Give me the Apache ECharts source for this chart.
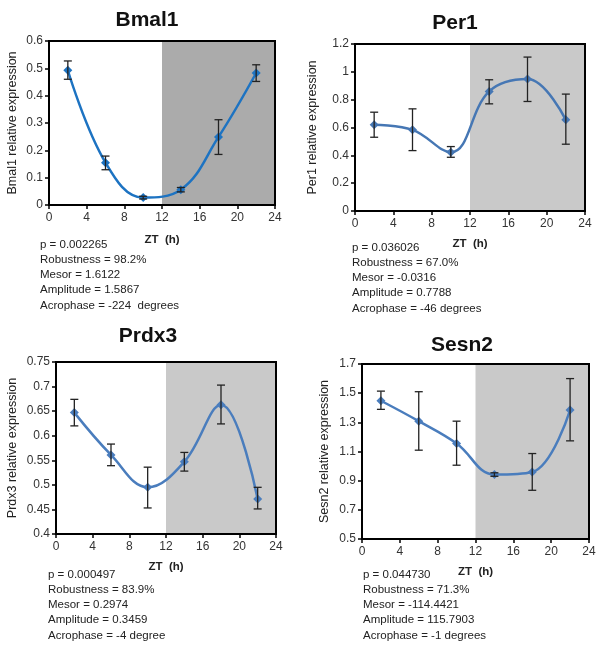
<!DOCTYPE html>
<html>
<head>
<meta charset="utf-8">
<script src="https://cdn.jsdelivr.net/npm/echarts@6/dist/echarts.min.js"></script>
<style>
  html, body { margin: 0; padding: 0; background: #fff; }
  #chart { width: 601px; height: 645px; }
</style>
</head>
<body>
<div id="chart"></div>
<script>
// ZT sampling times (h)
const zt = [2, 6, 10, 14, 18, 22];

// Bmal1
const bmal1Mean = [0.493, 0.155, 0.027, 0.056, 0.249, 0.483];
const bmal1Low  = [0.460, 0.129, 0.022, 0.048, 0.185, 0.452];
const bmal1High = [0.527, 0.179, 0.032, 0.064, 0.312, 0.513];

// Per1
const per1Mean = [0.619, 0.583, 0.422, 0.859, 0.948, 0.655];
const per1Low  = [0.530, 0.434, 0.386, 0.770, 0.787, 0.480];
const per1High = [0.710, 0.734, 0.463, 0.943, 1.106, 0.840];

// Prdx3
const prdx3Mean = [0.647, 0.561, 0.495, 0.547, 0.663, 0.471];
const prdx3Low  = [0.620, 0.539, 0.453, 0.528, 0.624, 0.451];
const prdx3High = [0.674, 0.583, 0.536, 0.566, 0.703, 0.495];

// Sesn2
const sesn2Mean = [1.448, 1.308, 1.155, 0.942, 0.960, 1.384];
const sesn2Low  = [1.389, 1.109, 1.006, 0.930, 0.834, 1.173];
const sesn2High = [1.514, 1.510, 1.308, 0.954, 1.086, 1.600];

// cosinor stats under each panel
const bmal1Stats = ["p = 0.002265", "Robustness = 98.2%", "Mesor = 1.6122", "Amplitude = 1.5867", "Acrophase = -224  degrees"];
const per1Stats  = ["p = 0.036026", "Robustness = 67.0%", "Mesor = -0.0316", "Amplitude = 0.7788", "Acrophase = -46 degrees"];
const prdx3Stats = ["p = 0.000497", "Robustness = 83.9%", "Mesor = 0.2974", "Amplitude = 0.3459", "Acrophase = -4 degree"];
const sesn2Stats = ["p = 0.044730", "Robustness = 71.3%", "Mesor = -114.4421", "Amplitude = 115.7903", "Acrophase = -1 degrees"];

const darkStart = 12;

const font = "Liberation Sans, Arial, sans-serif";

// panel layout
const panels = [
  { name: "Bmal1", mean: bmal1Mean, low: bmal1Low, high: bmal1High, stats: bmal1Stats,
    min: 0, max: 0.6, step: 0.1, dec: 1,
    grid: { left: 49, top: 41, width: 226, height: 164 },
    title: [142, 5], statPos: [40, 237], yGap: 30, xGap: 29,
    line: "#1d73c2", shade: "#ababab" },
  { name: "Per1", mean: per1Mean, low: per1Low, high: per1High, stats: per1Stats,
    min: 0, max: 1.2, step: 0.2, dec: 1,
    grid: { left: 355, top: 44, width: 230, height: 167 },
    title: [450, 8], statPos: [352, 240], yGap: 36, xGap: 27,
    line: "#4677b4", shade: "#c9c9c9" },
  { name: "Prdx3", mean: prdx3Mean, low: prdx3Low, high: prdx3High, stats: prdx3Stats,
    min: 0.4, max: 0.75, step: 0.05, dec: 2,
    grid: { left: 56, top: 362, width: 220, height: 172 },
    title: [143, 321], statPos: [48, 567], yGap: 37, xGap: 27,
    line: "#4a7dbd", shade: "#c9c9c9" },
  { name: "Sesn2", mean: sesn2Mean, low: sesn2Low, high: sesn2High, stats: sesn2Stats,
    min: 0.5, max: 1.7, step: 0.2, dec: 1,
    grid: { left: 362, top: 364, width: 227, height: 175 },
    title: [457, 330], statPos: [363, 567], yGap: 31, xGap: 27,
    line: "#4a7dbd", shade: "#c9c9c9" }
];

const option = { animation: false, title: [], grid: [], xAxis: [], yAxis: [], series: [], graphic: [] };

panels.forEach((p, i) => {
  option.title.push({
    text: p.name, left: p.title[0], top: p.title[1], textAlign: "center",
    textStyle: { fontFamily: font, fontSize: 21, fontWeight: "bold", color: "#111" }
  });
  option.grid.push(Object.assign({
    show: true, z: 5, backgroundColor: "transparent",
    borderColor: "#000", borderWidth: 2
  }, p.grid));
  option.xAxis.push({
    type: "value", gridIndex: i, min: 0, max: 24, interval: 4,
    name: "ZT  (h)", nameLocation: "middle", nameGap: p.xGap,
    nameTextStyle: { fontFamily: font, fontSize: 11.5, fontWeight: "bold", color: "#222" },
    axisLine: { show: false },
    axisTick: { show: true, length: 4, lineStyle: { color: "#000", width: 1.5 } },
    axisLabel: { fontFamily: font, fontSize: 12, color: "#333", margin: 7 },
    splitLine: { show: false }
  });
  option.yAxis.push({
    type: "value", gridIndex: i, min: p.min, max: p.max, interval: p.step,
    name: p.name + " relative expression", nameLocation: "middle", nameGap: p.yGap,
    nameTextStyle: { fontFamily: font, fontSize: 12.5, color: "#222" },
    axisLine: { show: false },
    axisTick: { show: true, length: 4, lineStyle: { color: "#000", width: 1.5 } },
    axisLabel: {
      fontFamily: font, fontSize: 12, color: "#333", margin: 6,
      formatter: v => (+v.toFixed(p.dec)).toString()
    },
    splitLine: { show: false }
  });
  // dark phase shading + smoothed line
  option.series.push({
    type: "line", xAxisIndex: i, yAxisIndex: i,
    data: zt.map((x, k) => [x, p.mean[k]]),
    smooth: 0.4,
    symbol: "diamond", symbolSize: 9,
    lineStyle: { color: p.line, width: 2.5 },
    itemStyle: { color: p.line },
    z: 3,
    markArea: {
      silent: true,
      itemStyle: { color: p.shade },
      data: [[{ xAxis: darkStart }, { xAxis: 24 }]]
    }
  });
  // error bars
  option.series.push({
    type: "custom", xAxisIndex: i, yAxisIndex: i, z: 4,
    data: zt.map((x, k) => [x, p.low[k], p.high[k]]),
    renderItem: (params, api) => {
      const lo = api.coord([api.value(0), api.value(1)]);
      const hi = api.coord([api.value(0), api.value(2)]);
      const w = 4;
      const st = { stroke: "#222", lineWidth: 1.3 };
      return {
        type: "group",
        children: [
          { type: "line", shape: { x1: lo[0], y1: lo[1], x2: hi[0], y2: hi[1] }, style: st },
          { type: "line", shape: { x1: lo[0] - w, y1: lo[1], x2: lo[0] + w, y2: lo[1] }, style: st },
          { type: "line", shape: { x1: hi[0] - w, y1: hi[1], x2: hi[0] + w, y2: hi[1] }, style: st }
        ]
      };
    }
  });
  option.graphic.push({
    type: "text", left: p.statPos[0], top: p.statPos[1],
    style: {
      text: p.stats.join("\n"), fontFamily: font, fontSize: 11.5,
      lineHeight: 15.2, fill: "#222"
    }
  });
});

const chart = echarts.init(document.getElementById("chart"));
chart.setOption(option);
</script>
</body>
</html>
